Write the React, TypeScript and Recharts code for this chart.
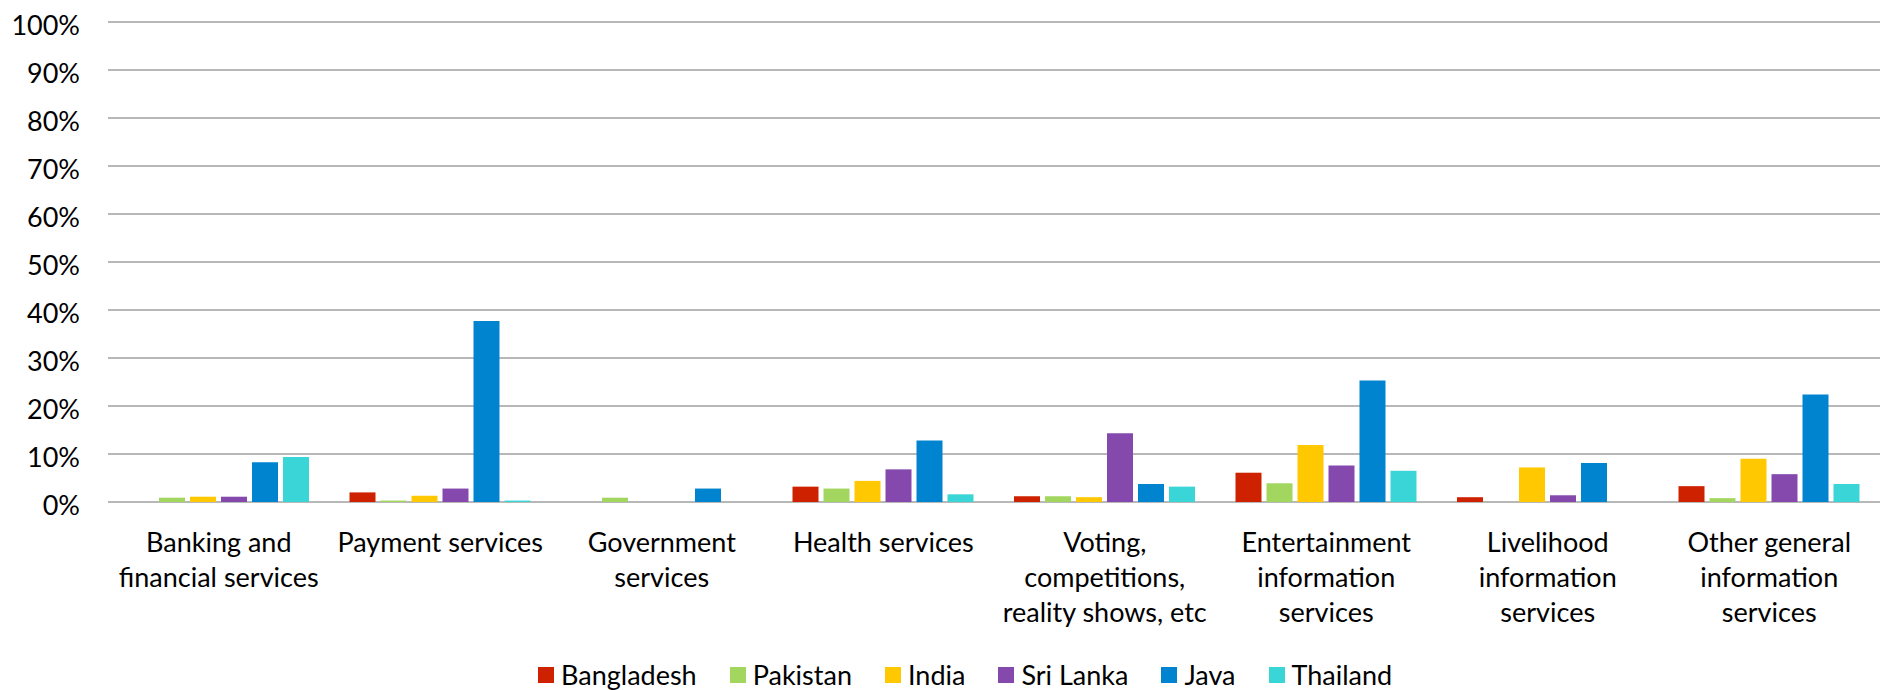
import { Bar, BarChart, CartesianGrid, Legend, XAxis, YAxis } from 'recharts'

const categories = [
  'Banking and\nfinancial services',
  'Payment services',
  'Government\nservices',
  'Health services',
  'Voting,\ncompetitions,\nreality shows, etc',
  'Entertainment\ninformation\nservices',
  'Livelihood\ninformation\nservices',
  'Other general\ninformation\nservices',
]

const bangladesh = [0, 2.0, 0, 3.2, 1.2, 6.1, 1.0, 3.3]
const pakistan = [0.9, 0.3, 0.9, 2.8, 1.2, 3.9, 0, 0.8]
const india = [1.1, 1.3, 0, 4.4, 1.0, 11.9, 7.2, 9.0]
const sriLanka = [1.1, 2.8, 0, 6.8, 14.3, 7.6, 1.4, 5.8]
const java = [8.3, 37.7, 2.8, 12.8, 3.75, 25.3, 8.1, 22.4]
const thailand = [9.4, 0.3, 0, 1.6, 3.2, 6.5, 0, 3.75]

const yTicks = [0, 10, 20, 30, 40, 50, 60, 70, 80, 90, 100]
const edgeTicks = [0, 1, 2, 3, 4, 5, 6, 7, 8]

const series = [
  { key: 'bangladesh', name: 'Bangladesh', color: '#cd2100' },
  { key: 'pakistan', name: 'Pakistan', color: '#a2d65f' },
  { key: 'india', name: 'India', color: '#ffc800' },
  { key: 'sriLanka', name: 'Sri Lanka', color: '#8549ae' },
  { key: 'java', name: 'Java', color: '#0084cf' },
  { key: 'thailand', name: 'Thailand', color: '#3ad5d6' },
]

const data = categories.map((category, i) => ({
  category,
  bangladesh: bangladesh[i],
  pakistan: pakistan[i],
  india: india[i],
  sriLanka: sriLanka[i],
  java: java[i],
  thailand: thailand[i],
}))

const FONT = 'Lato, "Noto Sans", sans-serif'
const GRID = '#a0a0a0'

function CategoryTick({ x, y, payload }: any) {
  const lines = String(payload.value).split('\n')
  return (
    <text x={x} y={y} textAnchor="middle" fill="#000" fontFamily={FONT} fontSize={27}>
      {lines.map((line, i) => (
        <tspan key={i} x={x} dy={i === 0 ? 42 : 35}>{line}</tspan>
      ))}
    </text>
  )
}

function LegendContent() {
  return (
    <div style={{ display: 'flex', alignItems: 'center', fontFamily: FONT, fontSize: 27, lineHeight: '30px', color: '#000' }}>
      {series.map((s) => (
        <div key={s.key} style={{ display: 'flex', alignItems: 'center', marginRight: 33 }}>
          <span style={{ width: 16, height: 16, background: s.color, marginRight: 7, display: 'inline-block' }} />
          <span>{s.name}</span>
        </div>
      ))}
    </div>
  )
}

export default function App() {
  return (
    <div style={{ position: 'absolute', left: 0, top: 0, background: '#fff' }}>
      <BarChart
        width={1880}
        height={690}
        data={data}
        margin={{ top: 22, right: 0, bottom: 0, left: 0 }}
        barSize={26}
        barGap={5}
      >
        <CartesianGrid vertical={false} stroke={GRID} strokeWidth={1.5} xAxisId="cat" />
        <XAxis
          xAxisId="edges"
          type="number"
          domain={[0, 8]}
          ticks={edgeTicks}
          height={0}
          tickSize={9}
          tickFormatter={() => ''}
          axisLine={{ stroke: GRID, strokeWidth: 1.5 }}
          tickLine={{ stroke: GRID, strokeWidth: 1.5 }}
        />
        <XAxis
          xAxisId="cat"
          dataKey="category"
          height={188}
          axisLine={false}
          tickLine={false}
          interval={0}
          tick={<CategoryTick />}
        />
        <YAxis
          domain={[0, 100]}
          ticks={yTicks}
          width={108}
          axisLine={false}
          tickLine={false}
          tickMargin={22}
          tickFormatter={(v) => `${v}%`}
          tick={{ fill: '#000', fontFamily: FONT, fontSize: 27, dy: 3 }}
        />
        <Legend
          verticalAlign="middle"
          layout="horizontal"
          content={<LegendContent />}
          wrapperStyle={{ top: 660, left: 538, width: 'auto' }}
        />
        {series.map((s) => (
          <Bar key={s.key} xAxisId="cat" dataKey={s.key} name={s.name} fill={s.color} isAnimationActive={false} />
        ))}
      </BarChart>
    </div>
  )
}
